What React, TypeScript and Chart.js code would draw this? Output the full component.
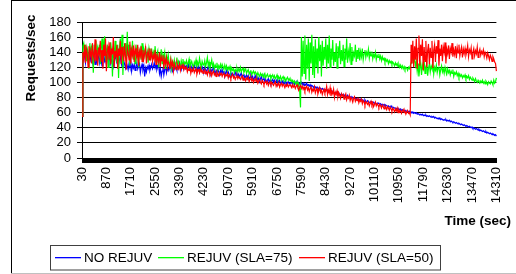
import { useEffect, useRef } from "react";
import { Chart, registerables } from "chart.js";

Chart.register(...registerables);

const FONT = "Arial, 'Liberation Sans', Helvetica, sans-serif";

// sample times (sec), every 30 s from 30 to 14310
const TIMES: string[] = Array.from({ length: 477 }, (_, i) => String(30 + 30 * i));

const TICK_LABELS = [
  "30", "870", "1710", "2550", "3390", "4230", "5070", "5910", "6750",
  "7590", "8430", "9270", "10110", "10950", "11790", "12630", "13470", "14310",
];

const Y_TICKS = [0, 20, 40, 60, 80, 100, 120, 140, 160, 180];

const SERIES_NAMES = ["NO REJUV", "REJUV (SLA=75)", "REJUV (SLA=50)"];
const SERIES_COLORS = ["#0000FF", "#00FF00", "#FF0000"];

const NO_REJUV = [
  55, 128, 138, 134, 126, 140, 132, 136, 128, 142, 130, 135, 127, 138, 131, 124, 136, 129, 140, 133,
  126, 137, 130, 122, 134, 139, 128, 131, 124, 136, 132, 127, 138, 125, 130, 134, 122, 129, 136, 131,
  127, 133, 124, 130, 136, 126, 121, 132, 128, 124, 119, 126, 122, 117, 125, 120, 128, 115, 123, 119,
  124, 116, 121, 126, 118, 122, 125, 113, 120, 124, 117, 122, 108, 119, 114, 121, 118, 123, 116, 120,
  124, 118, 121, 126, 119, 123, 117, 121, 125, 112, 118, 108, 115, 120, 110, 117, 122, 113, 119, 116,
  121, 117, 124, 119, 115, 122, 118, 125, 120, 116, 123, 119, 126, 121, 117, 124, 120, 118, 123, 119,
  122, 118, 125, 120, 117, 123, 119, 116, 121, 124, 118, 115, 120, 117, 122, 114, 119, 116, 121, 118,
  115, 120, 117, 113, 118, 121, 116, 112, 118, 114, 117, 120, 115, 111, 116, 113, 118, 114, 110, 116,
  113, 117, 111, 115, 108, 113, 116, 110, 114, 111, 107, 113, 110, 112, 108, 111, 114, 109, 112, 108,
  111, 107, 110, 113, 106, 109, 111, 105, 108, 110, 106, 109, 104, 107, 110, 105, 108, 103, 106, 109,
  104, 107, 103, 106, 101, 105, 108, 102, 104, 106, 101, 104, 100, 103, 105, 100, 103, 99, 102, 104,
  100, 103, 99, 101, 104, 98, 101, 103, 99, 100, 102, 98, 101, 99, 102, 97, 100, 101, 98, 100,
  99, 101, 98, 100, 97, 99, 101, 98, 100, 97, 99, 98, 100, 97, 99, 96, 98, 97, 99, 96,
  97, 95, 97, 94, 96, 95, 93, 95, 94, 92, 94, 93, 91, 93, 92, 90, 92, 91, 89, 91,
  90, 89, 90, 88, 89, 87, 88, 89, 86, 87, 86, 85, 87, 85, 84, 86, 84, 83, 85, 83,
  84, 82, 83, 82, 81, 83, 81, 80, 81, 79, 81, 80, 79, 80, 78, 79, 78, 77, 78, 77,
  78, 76, 77, 76, 75, 77, 75, 74, 76, 75, 74, 73, 75, 74, 73, 74, 72, 73, 72, 71,
  73, 72, 71, 72, 70, 71, 70, 71, 69, 70, 69, 68, 69, 68, 67, 69, 67, 66, 67, 66,
  66, 65, 66, 64, 65, 64, 65, 63, 64, 62, 63, 62, 63, 61, 62, 61, 62, 60, 61, 60,
  61, 59, 60, 59, 60, 58, 59, 58, 57, 58, 57, 58, 56, 57, 56, 57, 55, 56, 55, 56,
  55, 54, 55, 54, 55, 53, 54, 53, 52, 53, 52, 53, 51, 52, 51, 50, 51, 50, 51, 49,
  50, 49, 50, 48, 49, 48, 47, 48, 47, 46, 47, 46, 45, 46, 45, 44, 45, 44, 43, 44,
  43, 42, 43, 42, 41, 42, 41, 40, 41, 39, 40, 39, 38, 39, 38, 37, 38, 36, 37, 36,
  35, 36, 35, 34, 35, 33, 34, 33, 32, 33, 32, 31, 32, 31, 30, 31, 29,
];

const REJUV_SLA75 = [
  55, 148, 152, 138, 150, 128, 145, 140, 118, 152, 135, 147, 142, 113, 150, 138, 155, 130, 146, 140,
  150, 124, 145, 158, 132, 148, 161, 128, 142, 150, 120, 146, 137, 153, 140, 108, 148, 132, 155, 140,
  126, 150, 106, 145, 158, 135, 163, 110, 148, 140, 152, 128, 167, 135, 150, 122, 146, 138, 155, 130,
  142, 125, 150, 138, 147, 120, 140, 145, 130, 152, 128, 143, 136, 148, 132, 140, 126, 145, 138, 133,
  145, 130, 140, 135, 148, 127, 138, 142, 120, 136, 131, 144, 125, 137, 133, 140, 118, 134, 129, 137,
  126, 123, 131, 118, 127, 124, 130, 121, 126, 133, 122, 128, 125, 120, 129, 124, 131, 122, 127, 125,
  129, 122, 126, 131, 120, 125, 128, 123, 119, 127, 124, 130, 121, 126, 123, 132, 125, 120, 128, 124,
  123, 129, 121, 126, 133, 122, 127, 119, 124, 130, 121, 125, 118, 123, 120, 126, 117, 122, 119, 124,
  119, 124, 121, 117, 123, 118, 122, 116, 120, 117, 121, 114, 119, 116, 118, 113, 117, 115, 119, 114,
  118, 115, 120, 114, 117, 119, 113, 116, 118, 112, 115, 117, 111, 114, 116, 110, 113, 115, 111, 114,
  112, 109, 113, 110, 108, 112, 109, 111, 107, 110, 112, 106, 109, 111, 107, 108, 110, 105, 108, 110,
  106, 109, 105, 107, 110, 104, 107, 105, 108, 103, 106, 108, 104, 106, 102, 105, 107, 103, 105, 102,
  104, 101, 103, 99, 102, 100, 97, 101, 95, 98, 90, 67, 160, 108, 155, 112, 162, 104, 150, 118,
  158, 102, 153, 125, 163, 110, 148, 106, 157, 120, 145, 112, 160, 128, 150, 108, 155, 122, 147, 130,
  158, 118, 150, 125, 162, 120, 145, 130, 156, 122, 140, 127, 152, 119, 148, 132, 155, 124, 143, 128,
  150, 121, 145, 130, 158, 126, 141, 133, 152, 124, 147, 128, 139, 135, 150, 127, 143, 131, 146, 129,
  141, 134, 145, 130, 138, 143, 133, 140, 136, 144, 132, 139, 135, 141, 131, 137, 134, 140, 130, 136,
  133, 138, 131, 135, 129, 134, 130, 132, 127, 131, 128, 130, 125, 129, 126, 128, 124, 127, 125, 122,
  126, 123, 125, 121, 124, 120, 123, 119, 122, 118, 121, 117, 120, 119, 116, 120, 118, 122, 126, 130,
  133, 127, 131, 122, 128, 115, 125, 108, 120, 126, 110, 123, 118, 128, 112, 121, 125, 109, 119, 124,
  114, 122, 118, 125, 111, 120, 116, 123, 113, 119, 121, 110, 117, 122, 114, 118, 112, 120, 115, 111,
  118, 113, 116, 110, 115, 112, 117, 108, 113, 111, 114, 109, 112, 107, 111, 108, 110, 106, 109, 107,
  110, 105, 108, 106, 109, 104, 107, 105, 103, 106, 104, 101, 105, 102, 100, 103, 101, 99, 102, 100,
  103, 99, 101, 98, 102, 100, 97, 101, 99, 98, 102, 100, 97, 103, 99, 101, 106,
];

const REJUV_SLA50 = [
  55, 140, 132, 150, 126, 145, 138, 120, 148, 135, 142, 125, 152, 136, 130, 157, 128, 143, 122, 146,
  138, 155, 127, 143, 118, 150, 135, 158, 115, 140, 148, 130, 153, 124, 145, 137, 160, 120, 142, 133,
  150, 118, 145, 135, 155, 124, 147, 138, 128, 152, 134, 117, 146, 140, 130, 154, 125, 143, 136, 149,
  127, 145, 138, 132, 150, 122, 141, 135, 148, 128, 143, 131, 139, 146, 125, 137, 142, 130, 145, 133,
  140, 128, 136, 131, 143, 124, 138, 132, 127, 140, 121, 134, 129, 136, 118, 131, 125, 133, 120, 128,
  124, 118, 130, 122, 127, 115, 125, 120, 117, 126, 121, 118, 124, 116, 122, 119, 125, 117, 121, 118,
  120, 114, 118, 116, 121, 112, 117, 115, 119, 113, 116, 118, 111, 115, 117, 113, 119, 114, 116, 112,
  115, 117, 112, 114, 110, 116, 113, 111, 115, 109, 113, 115, 110, 112, 108, 114, 111, 109, 113, 110,
  112, 108, 111, 113, 107, 110, 109, 112, 106, 110, 108, 105, 109, 111, 106, 108, 104, 107, 109, 105,
  108, 106, 104, 107, 109, 103, 106, 105, 102, 106, 104, 107, 101, 104, 106, 102, 105, 100, 103, 105,
  101, 104, 99, 102, 104, 100, 98, 103, 101, 97, 100, 102, 98, 101, 96, 99, 101, 97, 100, 98,
  96, 99, 101, 95, 98, 97, 100, 94, 97, 99, 95, 98, 96, 93, 97, 95, 98, 94, 96, 97,
  95, 93, 97, 94, 96, 92, 95, 97, 93, 90, 94, 96, 92, 95, 91, 94, 89, 93, 95, 90,
  93, 88, 92, 95, 87, 91, 89, 94, 86, 90, 92, 85, 89, 93, 87, 90, 84, 88, 91, 86,
  89, 95, 84, 90, 86, 93, 82, 88, 85, 91, 80, 87, 84, 89, 81, 86, 83, 79, 85, 82,
  84, 78, 82, 85, 77, 81, 79, 83, 76, 80, 78, 74, 79, 81, 75, 78, 76, 80, 73, 77,
  75, 78, 72, 76, 74, 70, 75, 73, 71, 74, 69, 72, 75, 70, 73, 68, 71, 74, 69, 72,
  70, 67, 71, 69, 66, 70, 68, 65, 69, 67, 64, 68, 66, 63, 67, 65, 62, 66, 64, 61,
  65, 62, 66, 60, 64, 61, 63, 59, 62, 64, 60, 62, 58, 61, 63, 59, 60, 57, 150, 125,
  155, 120, 148, 130, 158, 118, 145, 162, 122, 150, 135, 157, 116, 147, 128, 155, 120, 142, 151, 124,
  146, 133, 155, 119, 143, 150, 127, 148, 138, 156, 122, 145, 135, 150, 128, 147, 140, 153, 125, 144,
  138, 149, 131, 145, 140, 152, 134, 143, 137, 148, 132, 146, 139, 150, 135, 142, 147, 133, 144, 138,
  145, 136, 141, 149, 134, 143, 139, 146, 131, 140, 145, 135, 142, 138, 147, 133, 140, 144, 136, 141,
  138, 143, 134, 140, 137, 132, 139, 135, 130, 136, 133, 128, 134, 131, 127, 125, 115,
];

const Y_TITLE = "Requests/sec";
const X_TITLE = "Time (sec)";

const decorPlugin = {
  id: "decor",
  afterDraw(chart: any) {
    const ctx: CanvasRenderingContext2D = chart.ctx;
    ctx.save();
    // outer frame
    ctx.fillStyle = "#000000";
    ctx.fillRect(11, 0, 505, 1);
    ctx.fillRect(11, 0, 1, 273);
    ctx.fillStyle = "#c0c0c0";
    ctx.fillRect(11, 273, 505, 1);

    // y title
    ctx.fillStyle = "#000000";
    ctx.font = `bold 13.5px ${FONT}`;
    ctx.textAlign = "center";
    ctx.textBaseline = "middle";
    ctx.save();
    ctx.translate(31, 58);
    ctx.rotate(-Math.PI / 2);
    ctx.fillText(Y_TITLE, 0, 0);
    ctx.restore();

    // x title
    ctx.textAlign = "right";
    ctx.fillText(X_TITLE, 511, 221);

    // legend frame
    ctx.strokeStyle = "#404040";
    ctx.lineWidth = 1;
    ctx.strokeRect(50.5, 245.5, 390, 24.5);

    // legend items
    const items = [
      { x0: 55, x1: 81, tx: 84 },
      { x0: 158, x1: 184, tx: 187 },
      { x0: 299, x1: 325, tx: 328 },
    ];
    ctx.font = `13.5px ${FONT}`;
    ctx.textAlign = "left";
    ctx.textBaseline = "middle";
    for (let k = 0; k < items.length; k++) {
      const it = items[k];
      ctx.fillStyle = SERIES_COLORS[k];
      ctx.fillRect(it.x0, 257, it.x1 - it.x0, 1.3);
      ctx.fillStyle = "#000000";
      ctx.fillText(SERIES_NAMES[k], it.tx, 258);
    }
    ctx.restore();
  },
};

export default function App() {
  const ref = useRef<HTMLCanvasElement | null>(null);

  useEffect(() => {
    document.body.style.margin = "0";
    const canvas = ref.current;
    if (!canvas) return;
    const seriesData = [NO_REJUV, REJUV_SLA75, REJUV_SLA50];
    const orders = [3, 2, 1];
    const chart = new Chart(canvas, {
      type: "line",
      data: {
        labels: TIMES,
        datasets: seriesData.map((d, k) => ({
          label: SERIES_NAMES[k],
          data: d,
          borderColor: SERIES_COLORS[k],
          backgroundColor: SERIES_COLORS[k],
          borderWidth: 1.2,
          pointRadius: 0,
          tension: 0,
          fill: false,
          order: orders[k],
        })),
      },
      options: {
        responsive: false,
        devicePixelRatio: 1,
        animation: false,
        layout: { padding: { top: 22, right: 8, left: 0, bottom: 0 } },
        plugins: { legend: { display: false }, tooltip: { enabled: false } },
        scales: {
          x: {
            type: "category",
            grid: {
              display: true,
              drawOnChartArea: false,
              drawTicks: true,
              tickLength: 5,
              color: "#000",
              lineWidth: 1,
            },
            border: { display: true, color: "#000", width: 1 },
            ticks: {
              autoSkip: false,
              maxRotation: 90,
              minRotation: 90,
              padding: 4,
              color: "#000",
              font: { family: FONT, size: 13 },
              callback: (_v: any, i: number) =>
                TICK_LABELS.includes(TIMES[i]) ? TIMES[i] : "",
            },
            afterFit: (s: any) => {
              s.height = 116;
            },
          },
          y: {
            min: Y_TICKS[0],
            max: Y_TICKS[Y_TICKS.length - 1],
            afterBuildTicks: (s: any) => {
              s.ticks = Y_TICKS.map((v) => ({ value: v }));
            },
            ticks: {
              autoSkip: false,
              stepSize: 20,
              padding: 6,
              color: "#000",
              font: { family: FONT, size: 13 },
            },
            grid: { color: "#000", lineWidth: 1, tickLength: 5, drawTicks: true },
            border: { display: true, color: "#000", width: 1 },
            afterFit: (s: any) => {
              s.width = 82;
            },
          },
        },
      },
      plugins: [decorPlugin],
    } as any);
    return () => chart.destroy();
  }, []);

  return (
    <canvas
      ref={ref}
      width={516}
      height={274}
      style={{ display: "block", width: 516, height: 274 }}
    />
  );
}
